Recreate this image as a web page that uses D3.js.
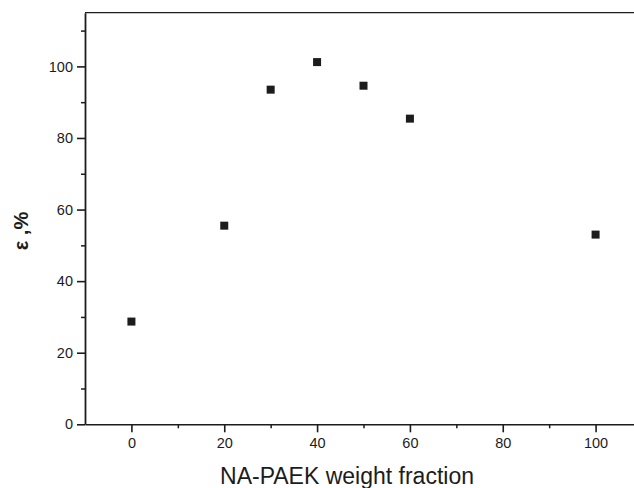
<!DOCTYPE html>
<html>
<head>
<meta charset="utf-8">
<script src="https://cdn.jsdelivr.net/npm/d3@7"></script>
<style>
  body { margin: 0; background: #fff; }
  svg { display: block; }
</style>
</head>
<body>
<svg id="chart"></svg>
<script>
// weight fraction of NA-PAEK vs elongation
const fractions = [0, 20, 30, 40, 50, 60, 100];
const elongation = [28.7, 55.5, 93.5, 101.2, 94.6, 85.4, 53];
const xMajorTicks = [0, 20, 40, 60, 80, 100];
const xMinorTicks = [10, 30, 50, 70, 90];
const yMajorTicks = [0, 20, 40, 60, 80, 100];
const yMinorTicks = [10, 30, 50, 70, 90, 110];

const chartWidth = 634, chartHeight = 488;
const padLeft = 85, padTop = 12.7, axisY = 424.3;

const svg = d3.select('#chart')
  .attr('width', chartWidth)
  .attr('height', chartHeight)
  .style('font-family', 'Liberation Sans, Arial, sans-serif');

const x = d3.scaleLinear().domain([-10, 110]).range([padLeft, 642]);
const y = d3.scaleLinear().domain([0, 115]).range([axisY, padTop]);

const ink = '#1c1c1c';

// minor ticks first so the major ones draw over
svg.append('g')
  .attr('transform', `translate(0,${axisY})`)
  .call(d3.axisBottom(x).tickValues(xMinorTicks).tickSize(4).tickFormat(''))
  .call(g => g.select('.domain').remove())
  .call(g => g.selectAll('line').attr('stroke', ink).attr('stroke-width', 1.5));

svg.append('g')
  .attr('transform', `translate(${padLeft},0)`)
  .call(d3.axisLeft(y).tickValues(yMinorTicks).tickSize(4).tickFormat(''))
  .call(g => g.select('.domain').remove())
  .call(g => g.selectAll('line').attr('stroke', ink).attr('stroke-width', 1.5));

const xAxis = svg.append('g')
  .attr('transform', `translate(0,${axisY})`)
  .call(d3.axisBottom(x).tickValues(xMajorTicks).tickSize(8).tickSizeOuter(0).tickPadding(5));
xAxis.select('.domain').attr('stroke', ink).attr('stroke-width', 1.6);
xAxis.selectAll('line').attr('stroke', ink).attr('stroke-width', 1.6);
xAxis.selectAll('text').attr('fill', ink).style('font-size', '14.5px');

const yAxis = svg.append('g')
  .attr('transform', `translate(${padLeft},0)`)
  .call(d3.axisLeft(y).tickValues(yMajorTicks).tickSize(8).tickSizeOuter(0).tickPadding(4));
yAxis.select('.domain').attr('stroke', ink).attr('stroke-width', 1.8);
yAxis.selectAll('line').attr('stroke', ink).attr('stroke-width', 1.6);
yAxis.selectAll('text').attr('fill', ink).style('font-size', '14.5px');

// top border of the frame
svg.append('line')
  .attr('x1', padLeft).attr('x2', chartWidth)
  .attr('y1', padTop).attr('y2', padTop)
  .attr('stroke', ink).attr('stroke-width', 1.2);

// markers
const size = 8;
svg.append('g')
  .selectAll('rect')
  .data(fractions.map((f, i) => ({ f, v: elongation[i] })))
  .enter()
  .append('rect')
  .attr('x', d => x(d.f) - size / 2)
  .attr('y', d => y(d.v) - size / 2)
  .attr('width', size)
  .attr('height', size)
  .attr('fill', ink);

// axis titles
svg.append('text')
  .attr('x', 347)
  .attr('y', 484)
  .attr('text-anchor', 'middle')
  .attr('fill', ink)
  .style('font-size', '23px')
  .text('NA-PAEK weight fraction');

svg.append('text')
  .attr('transform', 'translate(28,231) rotate(-90)')
  .attr('text-anchor', 'middle')
  .attr('fill', ink)
  .style('font-size', '20px')
  .style('font-weight', 'bold')
  .text('ε ,%');
</script>
</body>
</html>
